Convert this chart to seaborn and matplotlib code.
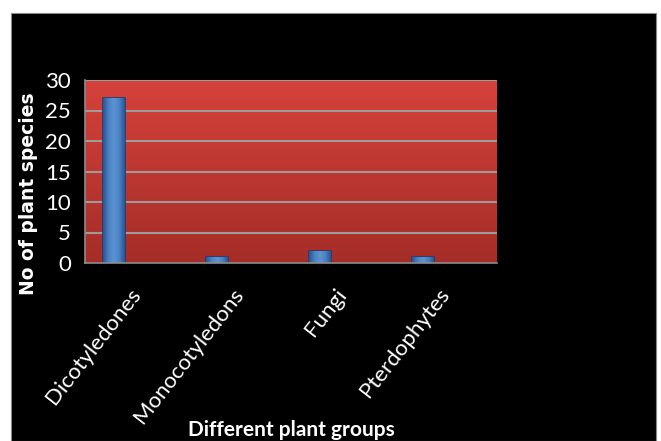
import numpy as np
import pandas as pd
import matplotlib
matplotlib.use("Agg")
import matplotlib.pyplot as plt
import seaborn as sns
from matplotlib.patches import Rectangle

# dados
grupos = ["Dicotyledones", "Monocotyledons", "Fungi", "Pterdophytes"]
especies = [27, 1, 2, 1]
yticks = [0, 5, 10, 15, 20, 25, 30]

tabela = pd.DataFrame({"grupo": grupos, "especies": especies})

sns.set_style("white")
fonte = ["Lato", "DejaVu Sans"]

fig = plt.figure(figsize=(6.61, 4.41), dpi=100)
fig.patch.set_facecolor("white")
# painel preto de fundo
fig.patches.append(Rectangle((11 / 661, 0), 645 / 661, 428 / 441,
                             transform=fig.transFigure, facecolor="black",
                             edgecolor="#888888", linewidth=0.8, zorder=-10))

ax = fig.add_axes([85 / 661, 1 - 263 / 441, 412 / 661, 183 / 441])
ax.set_facecolor("none")

# fundo vermelho em degrade
grad = np.linspace(0, 1, 256).reshape(-1, 1)
cmap = matplotlib.colors.LinearSegmentedColormap.from_list("verm", ["#d5423b", "#a52d28"])
ax.imshow(grad, cmap=cmap, aspect="auto", extent=[0, 1, 0, 1],
          transform=ax.transAxes, zorder=0)

sns.barplot(data=tabela, x="grupo", y="especies", width=0.21,
            color="#3d70b4", edgecolor="#1e3e70", linewidth=1.2,
            saturation=1, ax=ax, zorder=3)

# degrade horizontal dentro das barras (efeito 3d do excel)
azul = matplotlib.colors.LinearSegmentedColormap.from_list(
    "azul", ["#2a5494", "#4a82c4", "#5b93d2", "#4a82c4", "#2a5494"])
hgrad = np.linspace(0, 1, 64).reshape(1, -1)
for p in ax.patches:
    p.set_x(p.get_x() - 0.22)
    x0, w, h = p.get_x(), p.get_width(), p.get_height()
    im = ax.imshow(hgrad, cmap=azul, aspect="auto",
                   extent=[x0, x0 + w, 0, h], zorder=3.5)
    im.set_clip_path(p)

ax.set_xlim(-0.5, len(grupos) - 0.5)
ax.set_ylim(0, 30)
ax.set_yticks(yticks)
for v in yticks[1:]:
    ax.axhline(v, color="#a09a98", linewidth=1.5, zorder=1)

for s in ["top", "right"]:
    ax.spines[s].set_visible(False)
for s in ["left", "bottom"]:
    ax.spines[s].set_color("#8c8c8c")
    ax.spines[s].set_linewidth(1.2)
    ax.spines[s].set_zorder(4)

ax.set_xticks(np.arange(-0.5, len(grupos), 1), minor=True)
ax.tick_params(axis="x", which="minor", length=7, color="#8c8c8c", width=1.2)
ax.tick_params(axis="x", which="major", length=0, pad=20)
ax.tick_params(axis="y", length=6, color="#8c8c8c", width=1.2, pad=4)

ax.set_xticklabels(grupos, rotation=52, ha="right", va="center",
                   rotation_mode="anchor", color="white", family=fonte, fontsize=16)
for t in ax.get_yticklabels():
    t.set_color("white")
    t.set_family(fonte)
    t.set_fontsize(16)

ax.set_xlabel("Different plant groups", color="white", family=fonte,
              fontsize=15, fontweight="bold")
ax.xaxis.set_label_coords(0.50, -0.86)
ax.set_ylabel("No of plant species", color="white", family="DejaVu Sans",
              fontsize=13.5, fontweight="bold")
ax.yaxis.set_label_coords(-0.114, 0.377)

ax.set_xlim(-0.5, len(grupos) - 0.5)
ax.set_ylim(0, 30)

fig.savefig("out.png", dpi=100, facecolor=fig.get_facecolor())
